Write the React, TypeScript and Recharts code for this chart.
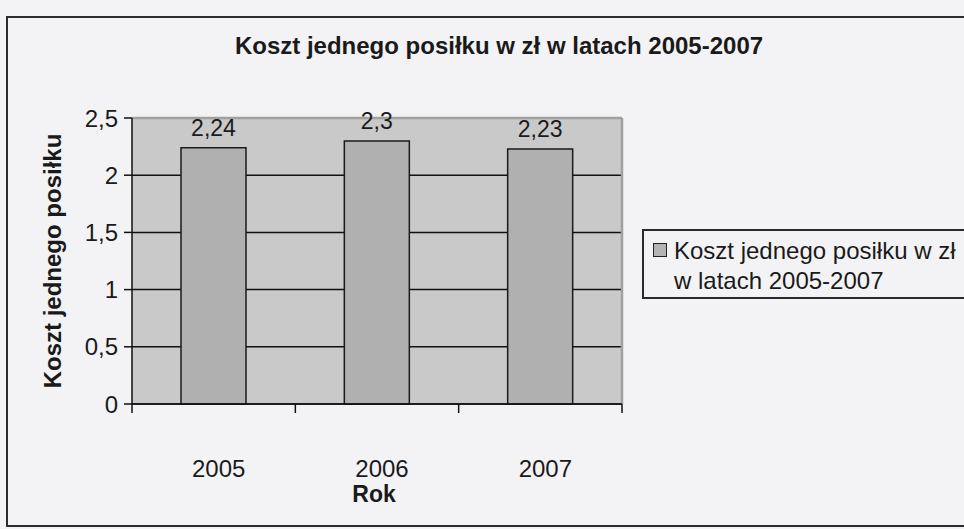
import React from "react";
import {
  BarChart,
  Bar,
  XAxis,
  YAxis,
  CartesianGrid,
  Legend,
  LabelList,
  Label,
} from "recharts";

const categories = ["2005", "2006", "2007"];
const mealCost = [2.24, 2.3, 2.23];
const yTicks = [0, 0.5, 1, 1.5, 2, 2.5];
const seriesName = "Koszt jednego posiłku w zł w latach 2005-2007";
const chartTitle = "Koszt jednego posiłku w zł w latach 2005-2007";
const xTitle = "Rok";
const yTitle = "Koszt jednego posiłku";

const data = categories.map((c, i) => ({ year: c, value: mealCost[i] }));

const FONT = "'Liberation Sans', Arial, sans-serif";
const comma = (v: any) => String(v).replace(".", ",");

const XTick = (props: any) => {
  const { x, y, payload, index, width, visibleTicksCount } = props;
  const band = width && visibleTicksCount ? width / visibleTicksCount : 163;
  const left = x - band / 2;
  return (
    <g>
      <line x1={left} y1={y} x2={left} y2={y + 9} stroke="#111" strokeWidth={1.5} />
      {index === visibleTicksCount - 1 && (
        <line x1={left + band} y1={y} x2={left + band} y2={y + 9} stroke="#111" strokeWidth={1.5} />
      )}
      <text x={x + 5} y={y + 73} textAnchor="middle" fontSize={24} fill="#1a1a1a" fontFamily={FONT}>
        {payload.value}
      </text>
    </g>
  );
};

const LegendContent = (props: any) => {
  const item = (props.payload || [])[0];
  const name = item ? String(item.value) : seriesName;
  const lines = name.replace(" w latach", "\nw latach");
  return (
    <div
      style={{
        border: "2px solid #2a2a2a",
        width: 360,
        height: 70,
        boxSizing: "border-box",
        position: "relative",
        fontFamily: FONT,
        fontSize: 24,
        color: "#1a1a1a",
        background: "transparent",
      }}
    >
      <div
        style={{
          position: "absolute",
          left: 9,
          top: 12,
          width: 12,
          height: 12,
          background: "#b4b4b4",
          border: "1.5px solid #222",
        }}
      />
      <div
        style={{
          position: "absolute",
          left: 30,
          top: 5,
          whiteSpace: "pre",
          lineHeight: "30px",
        }}
      >
        {lines}
      </div>
    </div>
  );
};

export default function App() {
  return (
    <div
      style={{
        position: "absolute",
        left: 0,
        top: 0,
        width: 964,
        height: 529,
        overflow: "hidden",
        background: "#f3f3f5",
        fontFamily: FONT,
      }}
    >
      <div
        style={{
          position: "absolute",
          left: 6,
          top: 16,
          width: 1100,
          height: 511,
          border: "2px solid #2c2c2c",
          boxSizing: "border-box",
        }}
      />
      <div
        style={{
          position: "absolute",
          left: 0,
          width: 998,
          top: 32,
          textAlign: "center",
          fontWeight: "bold",
          fontSize: 24,
          color: "#1a1a1a",
        }}
      >
        {chartTitle}
      </div>
      <div style={{ position: "absolute", left: 0, top: 0 }}>
        <BarChart
          width={964}
          height={529}
          data={data}
          margin={{ top: 118, right: 342, bottom: 0, left: 0 }}
          barSize={65}
        >
          <CartesianGrid
            fill="#c9c9c9"
            fillOpacity={1}
            stroke="#111"
            strokeWidth={1.5}
            vertical={false}
          />
          <CartesianGrid
            fill="none"
            stroke="#a0a0a0"
            strokeWidth={2.5}
            horizontalCoordinatesGenerator={(p: any) => [p.offset.top]}
            verticalCoordinatesGenerator={(p: any) => [p.offset.left + p.offset.width]}
          />
          <XAxis
            dataKey="year"
            height={55}
            tickSize={0}
            tickMargin={0}
            tickLine={false}
            axisLine={{ stroke: "#111", strokeWidth: 1.5 }}
            tick={<XTick />}
            interval={0}
          >
            <Label
              content={(p: any) => (
                <text
                  x={p.viewBox.x + p.viewBox.width / 2 - 3}
                  y={p.viewBox.y + 98}
                  textAnchor="middle"
                  fontSize={23}
                  fontWeight="bold"
                  fill="#1a1a1a"
                  fontFamily={FONT}
                >
                  {xTitle}
                </text>
              )}
            />
          </XAxis>
          <YAxis
            width={132}
            domain={[0, 2.5]}
            ticks={yTicks}
            interval={0}
            tickFormatter={comma}
            tickSize={8}
            tickMargin={6}
            tickLine={{ stroke: "#111", strokeWidth: 1.5 }}
            axisLine={{ stroke: "#111", strokeWidth: 1.5 }}
            tick={{ fontSize: 24, fill: "#1a1a1a", fontFamily: FONT }}
          >
            <Label
              content={(p: any) => {
                const cy = p.viewBox.y + p.viewBox.height / 2;
                return (
                  <text
                    x={52}
                    y={cy}
                    transform={`rotate(-90 52 ${cy})`}
                    textAnchor="middle"
                    dominantBaseline="central"
                    fontSize={24}
                    fontWeight="bold"
                    fill="#1a1a1a"
                    fontFamily={FONT}
                  >
                    {yTitle}
                  </text>
                );
              }}
            />
          </YAxis>
          <Legend
            content={<LegendContent />}
            wrapperStyle={{ position: "absolute", left: 642, top: 229, width: 360 }}
          />
          <Bar
            dataKey="value"
            name={seriesName}
            fill="#b0b0b0"
            stroke="#1a1a1a"
            strokeWidth={1.5}
            isAnimationActive={false}
          >
            <LabelList
              dataKey="value"
              position="top"
              offset={12}
              formatter={comma}
              style={{ fontSize: 23, fill: "#1a1a1a", fontFamily: FONT }}
            />
          </Bar>
        </BarChart>
      </div>
    </div>
  );
}
